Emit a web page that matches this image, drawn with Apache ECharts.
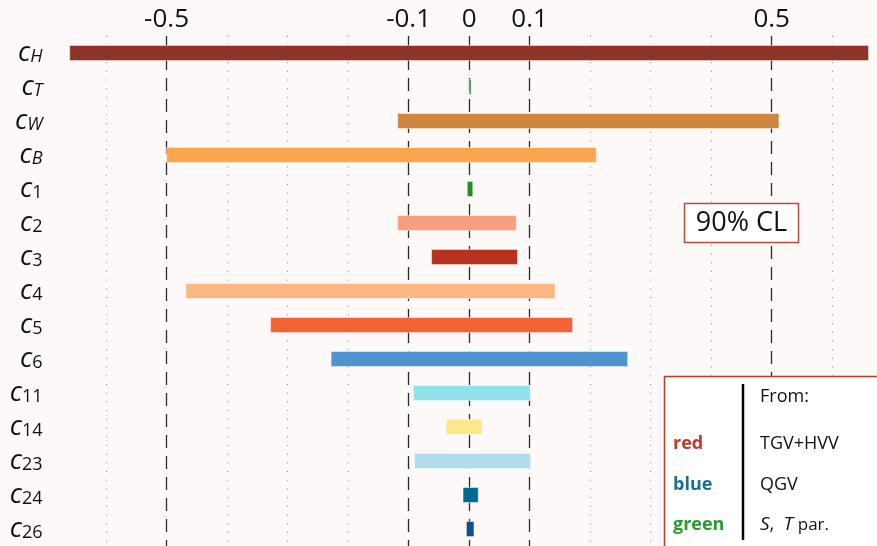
<!DOCTYPE html>
<html>
<head>
<meta charset="utf-8">
<title>Wilson coefficient bounds</title>
<script src="https://cdn.jsdelivr.net/npm/echarts@6/dist/echarts.min.js"></script>
<style>
  html, body { margin: 0; padding: 0; background: #fdf9f8; }
  #chart { width: 877px; height: 546px; }
</style>
</head>
<body>
<div id="chart"></div>
<script>
// Coefficient names (subscripts of c)
const categories = ['H', 'T', 'W', 'B', '1', '2', '3', '4', '5', '6', '11', '14', '23', '24', '26'];
// Lower and upper ends of each 90% CL interval
const lowValues  = [-0.66, 0.000, -0.118, -0.500, -0.003, -0.118, -0.062, -0.468, -0.328, -0.228, -0.092, -0.038, -0.090, -0.010, -0.0045];
const highValues = [ 0.66, 0.003,  0.512,  0.210,  0.006,  0.078,  0.080,  0.142,  0.171,  0.262,  0.101,  0.0215, 0.101,  0.015,  0.008];
const barColors  = ['#8b3427', '#2e8b57', '#cd853f', '#ffa54f', '#228b22', '#f7a080', '#b8321f',
                    '#fbb883', '#f26336', '#4f93cf', '#8ee3ef', '#ffe68a', '#b0dbea', '#006b8f', '#114e8c'];
// Tick values: labelled dashed lines and unlabelled dotted lines
const majorTicks = [-0.5, -0.1, 0, 0.1, 0.5];
const minorTicks = [-0.6, -0.4, -0.3, -0.2, 0.2, 0.3, 0.4, 0.6];

const FONT = 'Open Sans';
const chart = echarts.init(document.getElementById('chart'), null, { renderer: 'canvas' });

const italicSub = /^[A-Z]$/;
const rich = {
  c:  { fontFamily: FONT, fontStyle: 'italic', fontSize: 27, lineHeight: 26, verticalAlign: 'top', color: '#111' },
  si: { fontFamily: FONT, fontStyle: 'italic', fontSize: 18, lineHeight: 18, verticalAlign: 'bottom', padding: [12, 0, 0, 0], color: '#111' },
  sn: { fontFamily: FONT, fontSize: 18, lineHeight: 18, verticalAlign: 'bottom', padding: [12, 0, 0, 0], color: '#111' }
};

const barData = categories.map((name, i) => ({
  value: [i, lowValues[i], highValues[i]],
  itemStyle: { color: barColors[i] }
}));

function renderRange(params, api) {
  const idx = api.value(0);
  const start = api.coord([api.value(1), idx]);
  const end = api.coord([api.value(2), idx]);
  const h = 15;
  return {
    type: 'rect',
    shape: { x: start[0], y: start[1] - h / 2, width: Math.max(end[0] - start[0], 2), height: h },
    style: { fill: api.visual('color'), stroke: 'rgba(255,255,255,0.45)', lineWidth: 1 }
  };
}

const gridLines = [
  ...majorTicks.map(v => ({ xAxis: v, lineStyle: { type: [13, 8], color: '#2a2a2a', width: 1.3 } })),
  ...minorTicks.map(v => ({ xAxis: v, lineStyle: { type: [1, 7.7], color: '#8a8a8a', width: 1 } }))
];

const Z = 100;
chart.setOption({
  backgroundColor: '#fdf9f8',
  animation: false,
  grid: { left: 57.6, top: 36, right: 0, bottom: 0, containLabel: false },
  xAxis: {
    type: 'value',
    position: 'top',
    min: -0.68,
    max: 0.674,
    axisLine: { show: false },
    axisTick: { show: false },
    splitLine: { show: false },
    axisLabel: {
      customValues: majorTicks,
      formatter: v => String(v),
      fontFamily: FONT,
      fontSize: 26,
      color: '#111',
      margin: 3
    }
  },
  yAxis: {
    type: 'category',
    data: categories,
    inverse: true,
    axisLine: { show: false },
    axisTick: { show: false },
    splitLine: { show: false },
    axisLabel: {
      margin: 15,
      formatter: name => '{c|c}' + (italicSub.test(name) ? '{si|' + name + '}' : '{sn|' + name + '}'),
      rich: rich
    }
  },
  series: [
    {
      type: 'line',
      data: [],
      z: 1,
      silent: true,
      markLine: {
        z: 1,
        silent: true,
        symbol: 'none',
        animation: false,
        label: { show: false },
        data: gridLines
      }
    },
    {
      type: 'custom',
      z: 3,
      renderItem: renderRange,
      encode: { x: [1, 2], y: 0 },
      data: barData
    }
  ],
  graphic: [
    { type: 'rect', z: Z, shape: { x: 684.5, y: 203.5, width: 114, height: 39 },
      style: { fill: '#ffffff', stroke: '#c5473a', lineWidth: 1.5 } },
    { type: 'text', z: Z + 1, x: 741.5, y: 223.5,
      style: { text: '90% CL', fontFamily: FONT, fontSize: 27, fill: '#111', align: 'center', verticalAlign: 'middle' } },

    { type: 'rect', z: Z, shape: { x: 664.5, y: 376.5, width: 240, height: 200 },
      style: { fill: '#ffffff', stroke: '#c0392b', lineWidth: 1.5 } },
    { type: 'line', z: Z + 1, shape: { x1: 743, y1: 384, x2: 743, y2: 540 },
      style: { stroke: '#000', lineWidth: 2.5 } },
    { type: 'text', z: Z + 1, x: 760, y: 397,
      style: { text: 'From:', fontFamily: FONT, fontSize: 18, fill: '#111', verticalAlign: 'middle' } },
    { type: 'text', z: Z + 1, x: 673, y: 444,
      style: { text: 'red', fontFamily: FONT, fontWeight: 'bold', fontSize: 18, fill: '#c0392b', verticalAlign: 'middle' } },
    { type: 'text', z: Z + 1, x: 760, y: 444,
      style: { text: 'TGV+HVV', fontFamily: FONT, fontSize: 18, fill: '#111', verticalAlign: 'middle' } },
    { type: 'text', z: Z + 1, x: 673, y: 485,
      style: { text: 'blue', fontFamily: FONT, fontWeight: 'bold', fontSize: 18, fill: '#1c6f8e', verticalAlign: 'middle' } },
    { type: 'text', z: Z + 1, x: 760, y: 485,
      style: { text: 'QGV', fontFamily: FONT, fontSize: 18, fill: '#111', verticalAlign: 'middle' } },
    { type: 'text', z: Z + 1, x: 673, y: 525,
      style: { text: 'green', fontFamily: FONT, fontWeight: 'bold', fontSize: 18, fill: '#2a9a2e', verticalAlign: 'middle' } },
    { type: 'text', z: Z + 1, x: 760, y: 525,
      style: {
        text: '{i|S},  {i|T} {n|par.}',
        fontFamily: FONT, fontSize: 18, fill: '#111', verticalAlign: 'middle',
        rich: {
          i: { fontFamily: FONT, fontStyle: 'italic', fontSize: 19, fill: '#111' },
          n: { fontFamily: FONT, fontSize: 17, fill: '#111' }
        }
      } }
  ]
});
</script>
</body>
</html>
